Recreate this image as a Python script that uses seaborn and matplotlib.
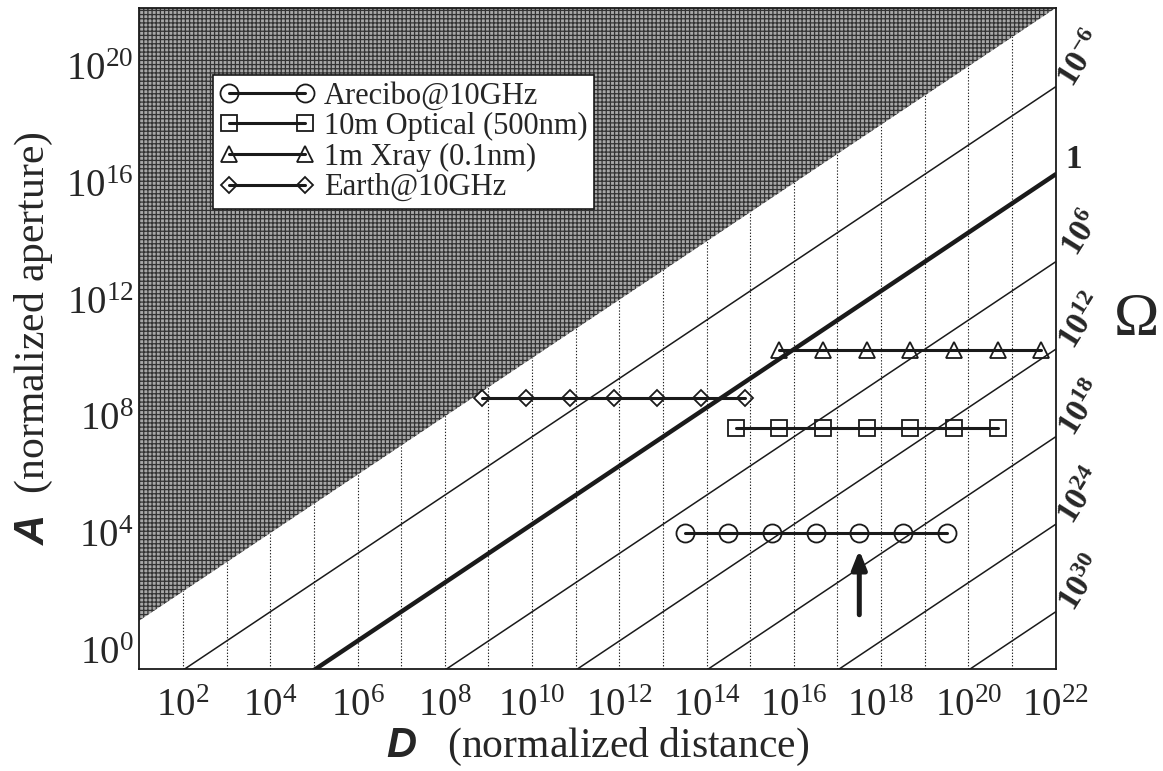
import numpy as np
import pandas as pd
import matplotlib
matplotlib.use('Agg')
import matplotlib.pyplot as plt
import seaborn as sns

sns.set_theme(style='white')
plt.rcParams['font.family'] = ['Liberation Serif', 'DejaVu Serif']
plt.rcParams['mathtext.fontset'] = 'custom'
plt.rcParams['mathtext.rm'] = 'Liberation Serif'
plt.rcParams['mathtext.it'] = 'Liberation Serif:italic'
plt.rcParams['mathtext.bf'] = 'Liberation Serif:bold'
plt.rcParams['mathtext.sf'] = 'Liberation Sans:bold:italic'
plt.rcParams['hatch.linewidth'] = 0.9
plt.rcParams['hatch.color'] = '#333333'

# axis range (log10)
x_range = (1.0, 22.0)
y_range = (-0.66, 22.0)

# instruments: log10 D of the markers, log10 A of the row
arecibo_logd = [13.5, 14.5, 15.5, 16.5, 17.5, 18.5, 19.5]
arecibo_loga = 4.0
optical_logd = [14.67, 15.67, 16.67, 17.67, 18.67, 19.67, 20.67]
optical_loga = 7.6
xray_logd = [15.67, 16.67, 17.67, 18.67, 19.67, 20.67, 21.67]
xray_loga = 10.28
earth_logd = [8.86, 9.86, 10.86, 11.87, 12.86, 13.87, 14.87]
earth_loga = 8.63

series_names = ['Arecibo@10GHz', '10m Optical (500nm)', '1m Xray (0.1nm)', 'Earth@10GHz']
series_logd = [arecibo_logd, optical_logd, xray_logd, earth_logd]
series_loga = [arecibo_loga, optical_loga, xray_loga, earth_loga]
series_markers = ['o', 's', '^', 'D']
series_msize = [13, 11, 12, 8.5]

# constant-Omega lines: log10 D where A = 1
omega_labels = [r'$\mathdefault{10^{-6}}$', '1', r'$\mathdefault{10^{6}}$', r'$\mathdefault{10^{12}}$',
                r'$\mathdefault{10^{18}}$', r'$\mathdefault{10^{24}}$', r'$\mathdefault{10^{30}}$']
omega_logd_a1 = [2.7, 5.7, 8.7, 11.7, 14.7, 17.7, 20.7]

# arrow (log10 D, log10 A from -> to)
arrow_logd = 17.5
arrow_loga = (1.2, 3.42)

fig = plt.figure(figsize=(11.63, 7.71), dpi=100)
ax = fig.add_axes([0.1198, 0.1323, 0.7879, 0.8573])
ax.set_xscale('log')
ax.set_yscale('log')
xmin, xmax = 10 ** x_range[0], 10 ** x_range[1]
ymin, ymax = 10 ** y_range[0], 10 ** y_range[1]
ax.set_xlim(xmin, xmax)
ax.set_ylim(ymin, ymax)

# dotted decade grid (hidden under the shaded region)
ax.set_axisbelow(True)
ax.set_xticks(10.0 ** np.arange(2, 23, 2))
ax.set_xticks(10.0 ** np.arange(2, 22, 1), minor=True)
ax.set_yticks(10.0 ** np.arange(0, 21, 4))
ax.yaxis.set_minor_locator(matplotlib.ticker.NullLocator())
ax.xaxis.set_minor_formatter(matplotlib.ticker.NullFormatter())
ax.grid(True, axis='x', which='both', color='#222222', linestyle=(0, (1.2, 1.6)), linewidth=0.8)
ax.grid(False, axis='y')

# shaded forbidden region A > D
edge = np.array([xmin, xmax])
ax.fill_between(edge, edge, ymax, facecolor='#a8a8a8', hatch='++++', edgecolor='#333333',
                linewidth=0, zorder=1)

# constant-Omega lines
for i, d0 in enumerate(omega_logd_a1):
    line_df = pd.DataFrame({'D': edge, 'A': edge / 10 ** d0})
    sns.lineplot(data=line_df, x='D', y='A', ax=ax, color='k',
                 linewidth=3.2 if omega_labels[i] == '1' else 1.1, zorder=2)
    a_end = xmax / 10 ** d0
    if omega_labels[i] == '1':
        ax.annotate(omega_labels[i], xy=(xmax, a_end), xytext=(13, 11), textcoords='offset points',
                    ha='center', va='center', fontsize=24, fontweight='bold', annotation_clip=False)
    else:
        ax.annotate(omega_labels[i], xy=(xmax, a_end), xytext=(19, 20), textcoords='offset points',
                    ha='center', va='center', rotation=58, fontsize=24, fontweight='bold',
                    annotation_clip=False)

# instruments
for name, logd, loga, mk, ms in zip(series_names, series_logd, series_loga, series_markers, series_msize):
    df = pd.DataFrame({'D': 10.0 ** np.array(logd), 'A': 10.0 ** loga})
    sns.lineplot(data=df, x='D', y='A', ax=ax, color='k', linewidth=2.2, marker=mk,
                 markersize=ms, markerfacecolor='none', markeredgecolor='k',
                 markeredgewidth=1.3, label=name, zorder=4)

ax.annotate('', xy=(10 ** arrow_logd, 10 ** arrow_loga[1]), xytext=(10 ** arrow_logd, 10 ** arrow_loga[0]),
            arrowprops=dict(arrowstyle='-|>,head_length=0.55,head_width=0.22', color='k', lw=3.6,
                            mutation_scale=20, shrinkA=0, shrinkB=0), zorder=5)

leg = ax.legend(loc='upper left', bbox_to_anchor=(0.0804, 0.899), borderaxespad=0, fontsize=22,
                numpoints=2, handlelength=3.1, handletextpad=0.3, labelspacing=0.05, borderpad=0.22,
                frameon=True, fancybox=False, edgecolor='k', framealpha=1, facecolor='white')
leg.get_frame().set_linewidth(1.2)
leg.set_zorder(6)

ax.tick_params(axis='y', which='major', direction='in', length=13, width=1.4, color='#555555',
               labelsize=28, pad=4)
ax.tick_params(axis='x', which='both', length=0, labelsize=28, pad=14)
for side in ['left', 'bottom', 'right', 'top']:
    ax.spines[side].set_color('k')
    ax.spines[side].set_linewidth(1.3)
    ax.spines[side].set_zorder(7)

ax.set_xlabel(r'$\mathsf{D}$   (normalized distance)', fontsize=30, labelpad=0)
ax.set_ylabel(r'$\mathsf{A}$  (normalized aperture)', fontsize=30, labelpad=8)

fig.text(1135 / 1163, 1 - 320 / 771, r'$\Omega$', fontsize=44, ha='center', va='center')

fig.savefig('out.png', dpi=100)
